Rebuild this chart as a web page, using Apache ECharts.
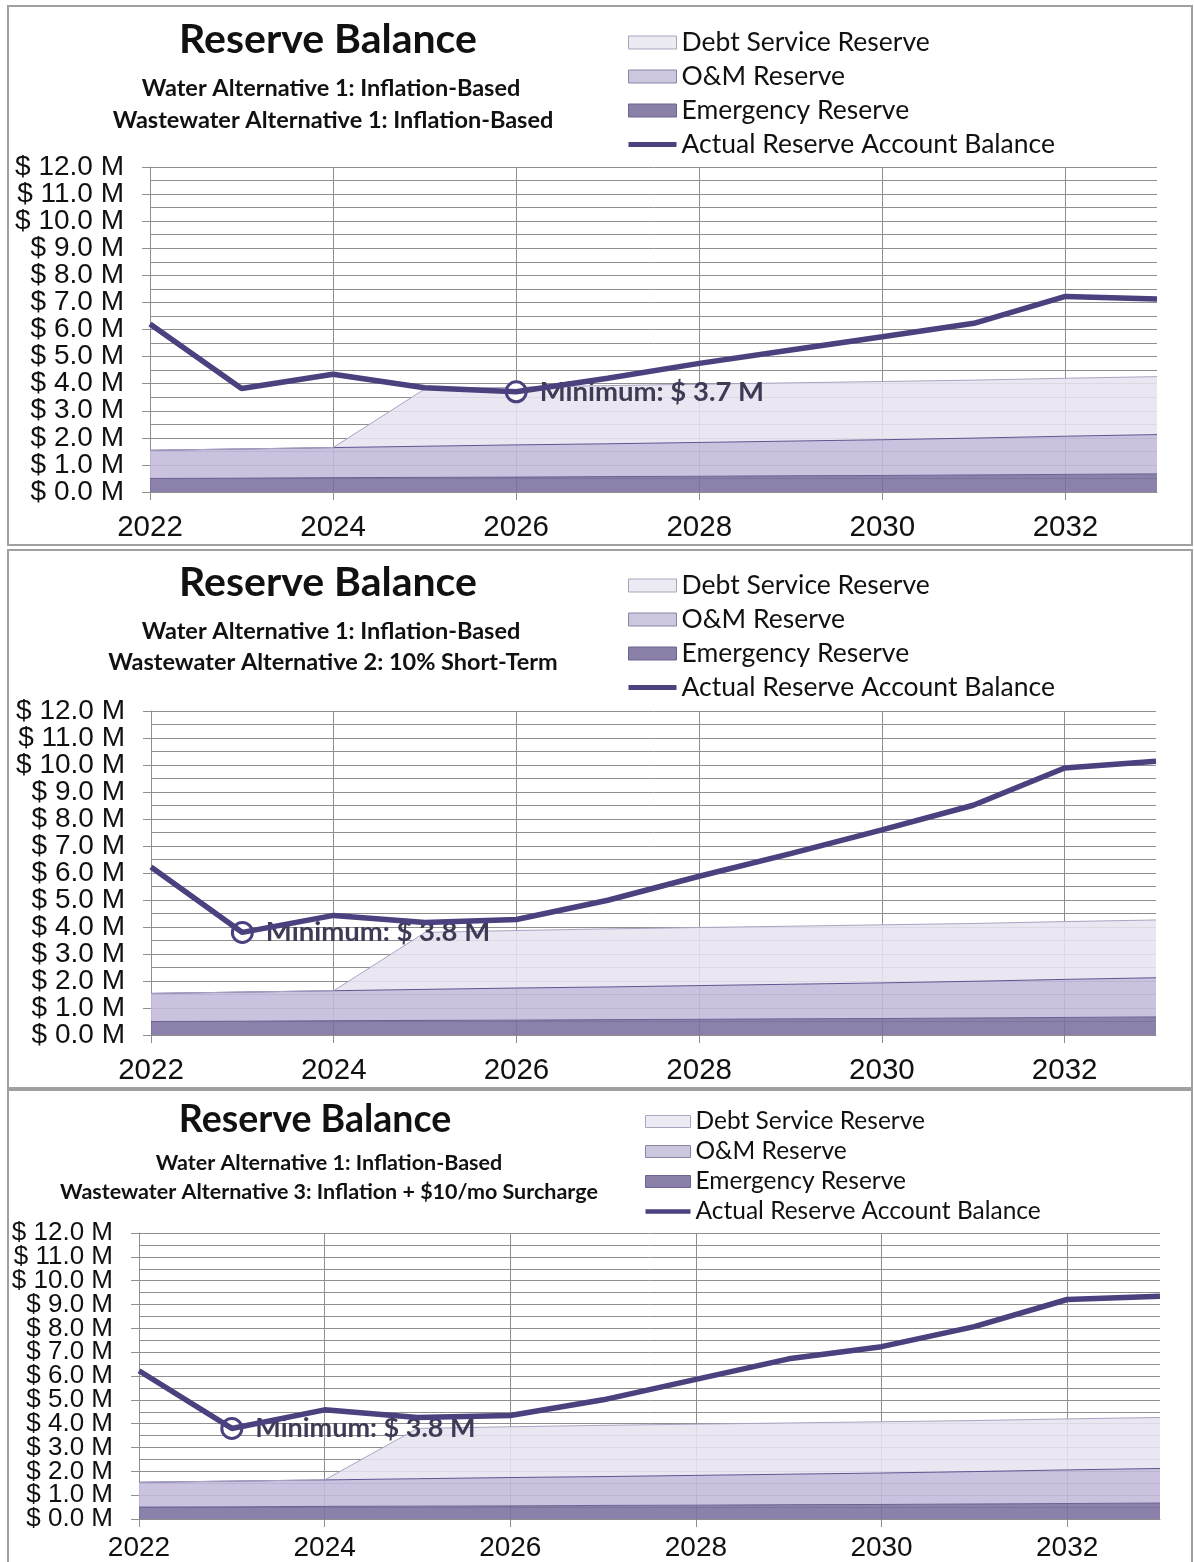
<!DOCTYPE html>
<html>
<head>
<meta charset="utf-8">
<script src="https://cdn.jsdelivr.net/npm/echarts@6/dist/echarts.min.js"></script>
<style>
  html, body { margin: 0; padding: 0; background: #ffffff; }
  #chart { width: 1194px; height: 1562px; }
</style>
</head>
<body>
<div id="chart"></div>
<script>
// ---- data ($ millions) ----
const years = ['2022', '2023', '2024', '2025', '2026', '2027', '2028', '2029', '2030', '2031', '2032', '2033'];

// reserve targets (stacked bands)
const emergencyReserve   = [0.50, 0.51, 0.53, 0.54, 0.55, 0.57, 0.58, 0.60, 0.61, 0.63, 0.65, 0.67];
const omReserve          = [1.04, 1.08, 1.11, 1.15, 1.19, 1.21, 1.25, 1.28, 1.32, 1.36, 1.41, 1.45];
const debtServiceReserve = [0.00, 0.00, 0.00, 2.11, 2.13, 2.15, 2.15, 2.15, 2.15, 2.14, 2.14, 2.14];

// actual reserve account balance for each wastewater alternative
const balanceWastewaterAlt1 = [6.20, 3.82, 4.35, 3.85, 3.70, 4.20, 4.75, 5.24, 5.73, 6.23, 7.22, 7.13];
const balanceWastewaterAlt2 = [6.22, 3.80, 4.43, 4.17, 4.28, 4.99, 5.88, 6.72, 7.60, 8.51, 9.89, 10.14];
const balanceWastewaterAlt3 = [6.22, 3.80, 4.58, 4.26, 4.34, 5.00, 5.86, 6.72, 7.23, 8.07, 9.21, 9.35];

const chartTitle = 'Reserve Balance';
const scenarioLines = [
  ['Water Alternative 1: Inflation-Based', 'Wastewater Alternative 1: Inflation-Based'],
  ['Water Alternative 1: Inflation-Based', 'Wastewater Alternative 2: 10% Short-Term'],
  ['Water Alternative 1: Inflation-Based', 'Wastewater Alternative 3: Inflation + $10/mo Surcharge']
];
const balances = [balanceWastewaterAlt1, balanceWastewaterAlt2, balanceWastewaterAlt3];

const seriesNames = ['Debt Service Reserve', 'O&M Reserve', 'Emergency Reserve', 'Actual Reserve Account Balance'];

// ---- styling ----
const COLORS = {
  debt: '#e8e4f0', debtEdge: '#aaa4c2',
  om: '#c4badb', omEdge: '#5e5590',
  emergency: '#7b6f9e', emergencyEdge: '#6c6192',
  balance: '#4a417f',
  grid: '#8e8e8e', border: '#a0a0a0', text: '#111111', marker: '#3f3a55'
};
const TITLE_FONT = 'Lato, "Open Sans", sans-serif';
const AXIS_FONT = '"Liberation Sans", Arial, sans-serif';

// ---- panel layout ----
const panels = [
  { box: [8, 6, 1184, 539], grid: { left: 150, top: 167, width: 1007, height: 325 },
    title: [328, 40, 41], subs: [[331, 88], [333, 120]], subFont: 23.5,
    legend: { left: 628, top: 29, iw: 48, ih: 13, font: 26.5, lh: 24, gap: 7 },
    yFont: 28, xFont: 29.5, xMargin: 21, markFont: 27.5 },
  { box: [8, 550, 1184, 538], grid: { left: 151, top: 711, width: 1005, height: 324 },
    title: [328, 583, 41], subs: [[331, 631], [333, 662]], subFont: 23.5,
    legend: { left: 628, top: 572, iw: 48, ih: 13, font: 26.5, lh: 24, gap: 7 },
    yFont: 28, xFont: 29.5, xMargin: 21, markFont: 27.5 },
  { box: [8, 1090, 1184, 474], grid: { left: 139, top: 1233, width: 1021, height: 286 },
    title: [315, 1120, 37.5], subs: [[329, 1163], [329, 1192]], subFont: 21.5,
    legend: { left: 645, top: 1109, iw: 45, ih: 12, font: 24.5, lh: 22, gap: 5 },
    yFont: 26, xFont: 28, xMargin: 15, markFont: 27 }
];

const moneyLabel = v => '$ ' + v.toFixed(1) + ' M';

const grids = [], xAxes = [], yAxes = [], series = [], legends = [], graphics = [];

panels.forEach((p, i) => {
  graphics.push({
    type: 'rect', z: 0, silent: true,
    shape: { x: p.box[0], y: p.box[1], width: p.box[2], height: p.box[3] },
    style: { fill: 'none', stroke: COLORS.border, lineWidth: 2 }
  });
  graphics.push({
    type: 'text', z: 10,
    style: { x: p.title[0], y: p.title[1], text: chartTitle, align: 'center', verticalAlign: 'middle',
             font: 'bold ' + p.title[2] + 'px ' + TITLE_FONT, fill: '#111111' }
  });
  p.subs.forEach((s, k) => {
    graphics.push({
      type: 'text', z: 10,
      style: { x: s[0], y: s[1], text: scenarioLines[i][k], align: 'center', verticalAlign: 'middle',
               font: 'bold ' + p.subFont + 'px ' + TITLE_FONT, fill: '#111111' }
    });
  });

  grids.push(Object.assign({ containLabel: false }, p.grid));

  xAxes.push({
    type: 'category', gridIndex: i, data: years, boundaryGap: false,
    axisLine: { show: true, lineStyle: { color: COLORS.grid, width: 1 } },
    axisTick: { show: true, interval: 1, length: 8, lineStyle: { color: COLORS.grid } },
    axisLabel: { interval: 1, color: COLORS.text, fontFamily: AXIS_FONT, fontSize: p.xFont, margin: p.xMargin },
    splitLine: { show: true, interval: 1, lineStyle: { color: COLORS.grid, width: 1 } }
  });

  // The dollar labels sit tightly packed; even and odd millions are written by two
  // coincident axes so that neither drops its end labels as "overlapping".
  const labelStyle = (parity) => ({
    color: COLORS.text, fontFamily: AXIS_FONT, fontSize: p.yFont, margin: 26,
    showMinLabel: true, showMaxLabel: true, hideOverlap: false,
    formatter: v => (Math.round(v) % 2 === parity ? moneyLabel(v) : '')
  });
  yAxes.push({
    type: 'value', gridIndex: i, min: 0, max: 12, interval: 1,
    axisLine: { show: true, lineStyle: { color: COLORS.grid, width: 1 } },
    axisTick: { show: true, length: 8, lineStyle: { color: COLORS.grid } },
    axisLabel: labelStyle(0),
    splitLine: { show: true, lineStyle: { color: COLORS.grid, width: 1 } },
    minorTick: { show: false, splitNumber: 2 },
    minorSplitLine: { show: true, lineStyle: { color: COLORS.grid, width: 1 } }
  });
  yAxes.push({
    type: 'value', gridIndex: i, position: 'left', offset: 0, min: 0, max: 12, interval: 1,
    axisLine: { show: false }, axisTick: { show: false },
    axisLabel: labelStyle(1),
    splitLine: { show: false }, minorSplitLine: { show: false }
  });
  const yIdx = 2 * i;

  const stack = 'reserves' + i;
  const band = (name, data, fill, edge) => ({
    name, type: 'line', xAxisIndex: i, yAxisIndex: yIdx, stack, data,
    symbol: 'none', smooth: false, z: 2,
    itemStyle: { color: fill },
    lineStyle: { color: edge, width: 1 },
    areaStyle: { color: fill, opacity: 0.88 },
    emphasis: { disabled: true }
  });
  series.push(band('Emergency Reserve', emergencyReserve, COLORS.emergency, COLORS.emergencyEdge));
  series.push(band('O&M Reserve', omReserve, COLORS.om, COLORS.omEdge));
  series.push(band('Debt Service Reserve', debtServiceReserve, COLORS.debt, COLORS.debtEdge));

  series.push({
    name: 'Actual Reserve Account Balance', type: 'line', xAxisIndex: i, yAxisIndex: yIdx,
    data: balances[i], symbol: 'none', z: 5,
    itemStyle: { color: COLORS.balance },
    lineStyle: { color: COLORS.balance, width: 5.5 },
    emphasis: { disabled: true },
    markPoint: {
      symbol: 'circle', symbolSize: 20,
      itemStyle: { color: '#ffffff', borderColor: COLORS.balance, borderWidth: 3 },
      label: {
        show: true, position: 'right', distance: 12,
        fontFamily: TITLE_FONT, fontWeight: 'bold', fontSize: p.markFont, color: COLORS.marker,
        formatter: prm => 'Minimum: ' + moneyLabel(Number(prm.value))
      },
      data: [{ type: 'min', name: 'Minimum' }]
    }
  });

  const L = p.legend;
  legends.push({
    orient: 'vertical', left: L.left, top: L.top, padding: 0,
    itemWidth: L.iw, itemHeight: L.ih, itemGap: L.gap,
    selectedMode: false,
    textStyle: { fontFamily: TITLE_FONT, fontSize: L.font, lineHeight: L.lh, color: '#111111' },
    data: [
      { name: seriesNames[0], icon: 'rect', itemStyle: { color: '#eceaf3', borderColor: '#a9a5bd', borderWidth: 1 } },
      { name: seriesNames[1], icon: 'rect', itemStyle: { color: '#cdc6df', borderColor: '#8a84a6', borderWidth: 1 } },
      { name: seriesNames[2], icon: 'rect', itemStyle: { color: '#8a80a8', borderColor: '#6c6490', borderWidth: 1 } },
      { name: seriesNames[3], icon: 'path://M0,0 L48,0 L48,5 L0,5 Z', itemStyle: { color: COLORS.balance, borderWidth: 0 } }
    ]
  });
});

const chart = echarts.init(document.getElementById('chart'), null, { renderer: 'canvas' });
chart.setOption({
  backgroundColor: '#ffffff',
  animation: false,
  grid: grids,
  xAxis: xAxes,
  yAxis: yAxes,
  legend: legends,
  series: series,
  graphic: graphics
});
</script>
</body>
</html>
